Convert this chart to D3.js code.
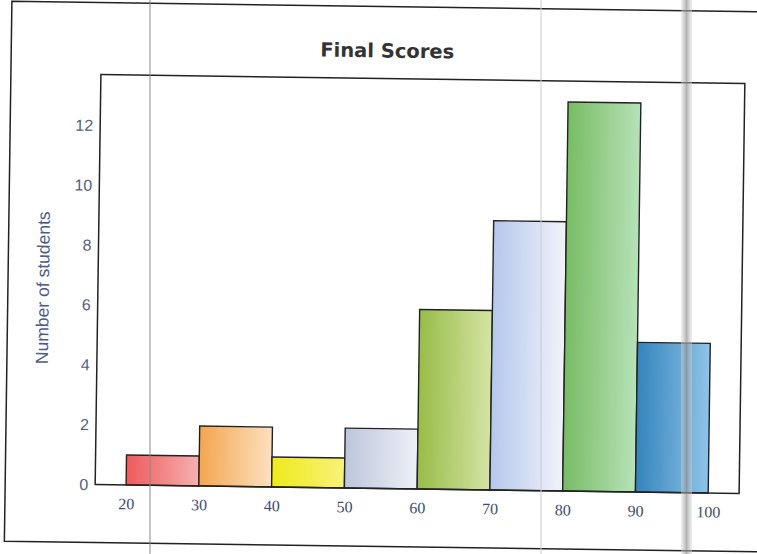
<!DOCTYPE html>
<html><head><meta charset="utf-8">
<script src="https://cdn.jsdelivr.net/npm/d3@7"></script>
<style>body{margin:0;background:#fff}svg{display:block}</style>
</head><body>
<svg id="c" width="757" height="554"></svg>
<script>
// ---- data ----
const binStarts = [20, 30, 40, 50, 60, 70, 80, 90];
const binWidth = 10;
const counts = [1, 2, 1, 2, 6, 9, 13, 5];
const xTicks = [20, 30, 40, 50, 60, 70, 80, 90, 100];
const yTicks = [0, 2, 4, 6, 8, 10, 12];
const title = "Final Scores";
const yLabel = "Number of students";
// ---- palette (left, right of each bar's gradient) ----
const palette = [
  ["#ee5a5a", "#f6b0b0"],
  ["#f3a64f", "#fde0c0"],
  ["#eeea1a", "#f8f27a"],
  ["#bcc6dc", "#eef0f6"],
  ["#98bc48", "#d4e4a4"],
  ["#b4c8ec", "#f2f2fa"],
  ["#78bc64", "#b6e2b8"],
  ["#3484bc", "#8ec4e8"]
];

const svg = d3.select("#c");
const defs = svg.append("defs");
palette.forEach((p, i) => {
  const g = defs.append("linearGradient").attr("id", "g" + i)
    .attr("x1", "0%").attr("x2", "100%").attr("y1", "0%").attr("y2", "0%");
  g.append("stop").attr("offset", "0%").attr("stop-color", p[0]);
  g.append("stop").attr("offset", "100%").attr("stop-color", p[1]);
});

const pL = 98, pR = 742, pT = 79, pB = 489;
const root = svg.append("g").attr("transform", "rotate(0.8,420,284)");

// page frame
root.append("path").attr("d", "M820,7 L8,7 L8,547 L820,547")
  .attr("fill", "none").attr("stroke", "#222").attr("stroke-width", 1.5);

const x = d3.scaleLinear().domain([15.75, 104.25]).range([pL, pR]);
const y = d3.scaleLinear().domain([0, 13.7]).range([pB, pT]);

// bars
root.selectAll("rect.bar").data(binStarts).join("rect").attr("class", "bar")
  .attr("x", d => x(d))
  .attr("width", d => x(d + binWidth) - x(d))
  .attr("y", (d, i) => y(counts[i]))
  .attr("height", (d, i) => y(0) - y(counts[i]))
  .attr("fill", (d, i) => `url(#g${i})`)
  .attr("stroke", "#222").attr("stroke-width", 1.4);

// plot frame
root.append("rect").attr("x", pL).attr("y", pT)
  .attr("width", pR - pL).attr("height", pB - pT)
  .attr("fill", "none").attr("stroke", "#222").attr("stroke-width", 1.5);

// axes (labels only)
const xAxis = d3.axisBottom(x).tickValues(xTicks).tickSize(0).tickPadding(13);
const gx = root.append("g").attr("transform", `translate(0,${pB})`).call(xAxis);
gx.select(".domain").remove();
gx.selectAll("text").attr("font-family", "'Liberation Serif', serif")
  .attr("font-size", 16).attr("fill", "#3e4c6c");

const yAxis = d3.axisLeft(y).tickValues(yTicks).tickSize(0).tickPadding(7);
const gy = root.append("g").attr("transform", `translate(${pL},0)`).call(yAxis);
gy.select(".domain").remove();
gy.selectAll("text").attr("font-family", "'Liberation Sans', Arial, sans-serif")
  .attr("font-size", 16).attr("fill", "#56607a");

// title
root.append("text").attr("x", 384).attr("y", 58).attr("text-anchor", "middle")
  .attr("font-family", "'DejaVu Sans', sans-serif").attr("font-weight", "bold")
  .attr("font-size", 19.5).attr("fill", "#333").text(title);

// y label
root.append("text").attr("transform", "translate(49,293) rotate(-90)")
  .attr("text-anchor", "middle")
  .attr("font-family", "'Liberation Sans', Arial, sans-serif")
  .attr("font-size", 17.5).attr("fill", "#4d5c86").text(yLabel);

// photo artefacts (scan lines / page fold)
svg.append("line").attr("x1", 150).attr("x2", 150).attr("y1", 0).attr("y2", 554)
  .attr("stroke", "#888").attr("stroke-width", 1);
svg.append("line").attr("x1", 541).attr("x2", 541).attr("y1", 0).attr("y2", 554)
  .attr("stroke", "#ccc").attr("stroke-width", 1);
const fold = defs.append("linearGradient").attr("id", "fold")
  .attr("x1", "0%").attr("x2", "100%");
fold.append("stop").attr("offset", "0%").attr("stop-color", "#d8d8d8").attr("stop-opacity", 0.4);
fold.append("stop").attr("offset", "50%").attr("stop-color", "#909090").attr("stop-opacity", 0.7);
fold.append("stop").attr("offset", "100%").attr("stop-color", "#d8d8d8").attr("stop-opacity", 0.4);
svg.append("rect").attr("x", 681).attr("y", 0).attr("width", 11).attr("height", 554)
  .attr("fill", "url(#fold)");
</script>
</body></html>
